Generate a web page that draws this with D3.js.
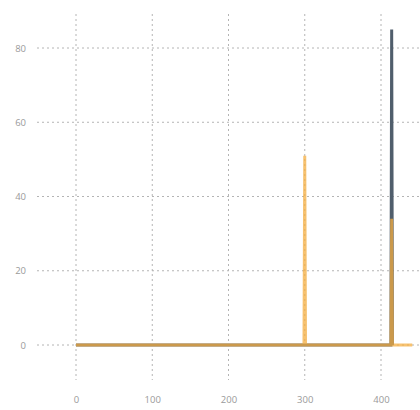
<!DOCTYPE html>
<html>
<head>
<meta charset="utf-8">
<script src="https://cdn.jsdelivr.net/npm/d3@7"></script>
<style>
  html, body { margin: 0; padding: 0; background: #fff; }
  svg { display: block; }
  .tick text { font-family: "Open Sans", sans-serif; font-size: 9.5px; fill: #9a9a9a; }
</style>
</head>
<body>
<svg id="chart" width="420" height="410"></svg>
<script>
// Series samples: [x, value]
const slateSeries = [[0, 0], [413, 0], [414, 85], [415, 0]];
const amberSeries = [[0, 0], [299, 0], [300, 51], [301, 0], [413, 0], [414, 34], [415, 0], [441, 0]];
const xTicks = [0, 100, 200, 300, 400];
const yTicks = [0, 20, 40, 60, 80];

const svg = d3.select("#chart");

const x = d3.scaleLinear().domain([0, 400]).range([76, 381]);
const y = d3.scaleLinear().domain([0, 80]).range([345, 48]);

// Dashed grid, extending a bit past the plotted region
const grid = svg.append("g");
grid.selectAll("line.h").data(yTicks).join("line")
  .attr("x1", 37).attr("x2", 420)
  .attr("y1", d => y(d)).attr("y2", d => y(d))
  .attr("stroke", "#b4b4b4").attr("stroke-width", 1)
  .attr("stroke-dasharray", "2,3");
grid.selectAll("line.v").data(xTicks).join("line")
  .attr("x1", d => x(d)).attr("x2", d => x(d))
  .attr("y1", 14).attr("y2", 380)
  .attr("stroke", "#b4b4b4").attr("stroke-width", 1)
  .attr("stroke-dasharray", "2,3");

// Axis labels
const xAxis = svg.append("g").attr("transform", "translate(0,394)")
  .call(d3.axisBottom(x).tickValues(xTicks).tickSize(0).tickPadding(0));
xAxis.select(".domain").remove();
xAxis.selectAll("text").attr("dy", "0.9em");

const yAxis = svg.append("g").attr("transform", "translate(26,0)")
  .call(d3.axisLeft(y).tickValues(yTicks).tickSize(0).tickPadding(0));
yAxis.select(".domain").remove();

const line = d3.line().x(d => x(d[0])).y(d => y(d[1]));

svg.append("path").datum(slateSeries)
  .attr("d", line)
  .attr("fill", "none")
  .attr("stroke", "#505e6c")
  .attr("stroke-width", 3)
  .attr("stroke-linejoin", "miter");

svg.append("path").datum(amberSeries)
  .attr("d", line)
  .attr("fill", "none")
  .attr("stroke", "#f4ad40")
  .attr("stroke-opacity", 0.75)
  .attr("stroke-width", 3)
  .attr("stroke-linejoin", "miter");
</script>
</body>
</html>
